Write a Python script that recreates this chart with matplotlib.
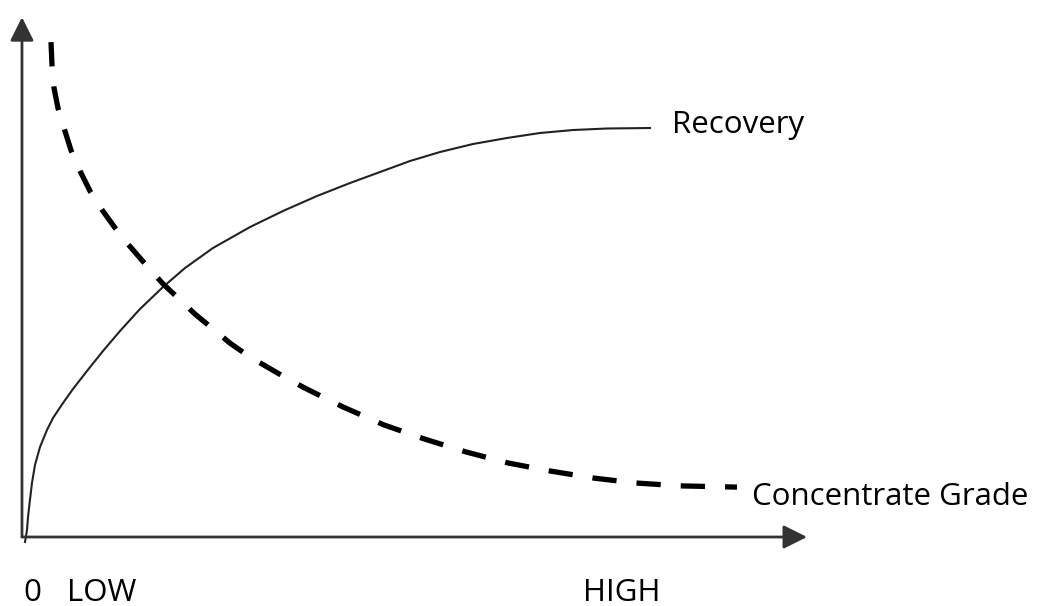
import matplotlib
matplotlib.use("Agg")
import matplotlib.pyplot as plt

plt.rcParams['font.family'] = ['Open Sans', 'DejaVu Sans']

# Recovery curve (solid), both axes scaled 0-100
recovery_x = [0.48, 0.80, 0.96, 1.27, 1.59, 2.07, 2.87, 3.98, 4.94, 6.53,
              8.12, 10.35, 12.90, 15.61, 18.79, 22.45, 25.96, 30.41, 36.31,
              41.56, 46.97, 52.23, 57.01, 61.78, 66.56, 71.82, 77.23, 82.48,
              87.74, 93.15, 100.0]
recovery_y = [-1.22, 1.71, 4.89, 9.05, 13.20, 17.60, 22.00, 26.16, 29.10, 32.76,
              36.19, 40.59, 45.48, 50.37, 55.75, 61.12, 65.77, 70.66, 75.79,
              79.71, 83.37, 86.55, 89.24, 91.93, 94.13, 96.09, 97.56, 98.78,
              99.51, 99.88, 100.0]

# Concentrate grade curve (dashed)
grade_x = [4.62, 4.78, 5.10, 5.73, 6.69, 7.80, 9.24, 10.83, 12.74, 14.81,
           16.88, 19.59, 22.45, 25.16, 27.55, 30.25, 33.12, 36.31, 39.01,
           42.04, 45.06, 51.11, 57.64, 64.01, 70.70, 77.39, 84.24, 91.08,
           97.77, 104.78, 113.85]
grade_y = [121.0, 115.4, 109.8, 104.9, 100.0, 94.6, 89.5, 84.6, 80.0, 75.6,
           71.6, 66.8, 61.9, 58.0, 54.5, 51.1, 47.4, 44.0, 41.6,
           38.9, 36.4, 31.8, 27.4, 24.0, 20.8, 18.1, 16.1, 14.4,
           13.2, 12.5, 12.2]

fig = plt.figure(figsize=(10.41, 6.06), dpi=100)
ax = fig.add_axes([0, 0, 1, 1])
ax.set_xlim(-3.5, 162.26)
ax.set_ylim(-16.87, 131.3)
ax.axis('off')

# axes with arrow heads
arrow = dict(arrowstyle='-|>,head_length=1.0,head_width=0.5', mutation_scale=14.4,
             lw=2.0, color='#333333', shrinkA=0, shrinkB=0)
ax.annotate('', xy=(125.0, 0), xytext=(0, 0), arrowprops=arrow)
ax.annotate('', xy=(0, 127.1), xytext=(0, 0), arrowprops=arrow)

ax.plot(recovery_x, recovery_y, color='#222222', lw=1.5, solid_joinstyle='round')
ax.plot(grade_x, grade_y, color='black', lw=3.8, dashes=(4.6, 3.8),
        dash_capstyle='butt')

fs = 22.5
ax.text(103.5, 98.8, 'Recovery', fontsize=fs, va='baseline', ha='left')
ax.text(116.2, 7.8, 'Concentrate Grade', fontsize=fs, va='baseline', ha='left')
ax.text(0.16, -15.65, '0', fontsize=fs, va='baseline', ha='left')
ax.text(7.17, -15.65, 'LOW', fontsize=fs, va='baseline', ha='left')
ax.text(89.3, -15.65, 'HIGH', fontsize=fs, va='baseline', ha='left')

fig.savefig('out.png', dpi=100)
